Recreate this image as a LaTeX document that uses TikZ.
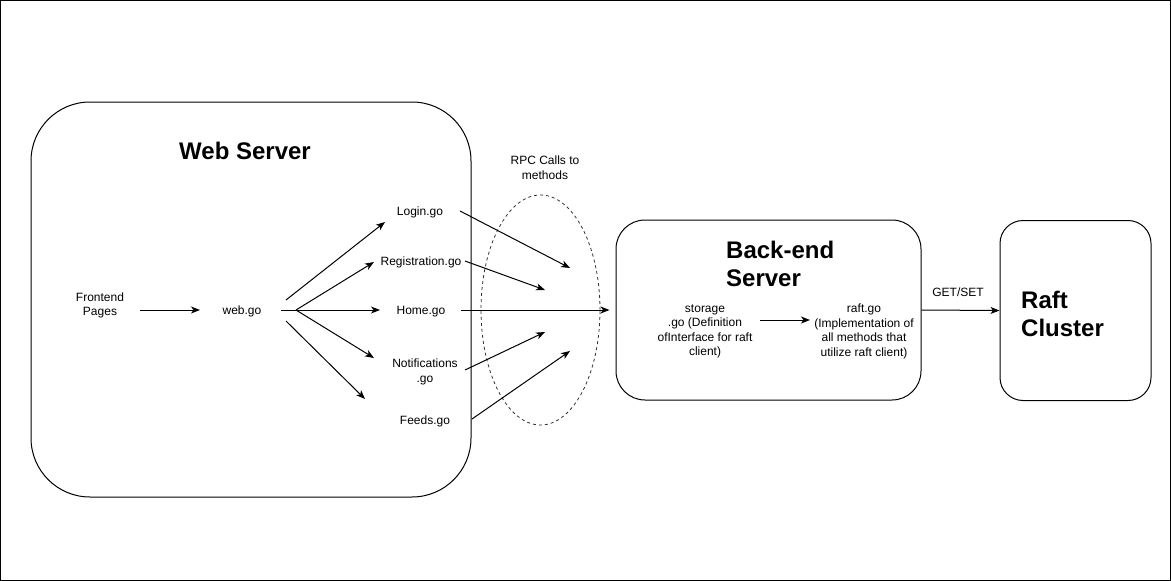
\documentclass[tikz,border=0pt]{standalone}
\usepackage{fontspec}
\setmainfont{Liberation Sans}
\usetikzlibrary{arrows.meta,shapes.geometric}
\tikzset{
  arr/.style={-{Stealth[length=9pt,width=7pt,inset=2.5pt]}, line width=1pt},
  boxbase/.style={draw, line width=1pt, inner sep=0pt},
  lbl/.style={font=\fontsize{12}{14.5}\selectfont, inner sep=0pt, align=center, yshift=-1.5pt},
  ttl/.style={font=\fontsize{24}{28}\selectfont\bfseries, inner sep=0pt},
  rpcring/.style={draw, ellipse, dash pattern=on 3pt off 3pt, line width=0.8pt, draw=black!80, inner sep=0pt},
}
\begin{document}
\begin{tikzpicture}[x=1pt,y=-1pt]
\useasboundingbox (0,0) rectangle (1171,581);
\draw[line width=1pt] (0.5,0.5) rectangle (1170.5,580.5);

% containers
\node[boxbase, rounded corners=59pt, minimum width=440pt, minimum height=395pt] (web) at (251,299.5) {};
\node[boxbase, rounded corners=29pt, minimum width=305pt, minimum height=180pt] (back) at (768.5,310) {};
\node[boxbase, rounded corners=23pt, minimum width=151pt, minimum height=180pt] (raft) at (1075.5,310.5) {};
\node[rpcring, minimum width=119pt, minimum height=230pt] (ring) at (540.5,310) {};

% titles
\node[ttl] (webtitle) at (245,151) {Web Server};
\node[ttl, align=left, anchor=west] (backtitle) at (726,264) {Back-end\\Server};
\node[ttl, align=left, anchor=west] (rafttitle) at (1021,314) {Raft\\Cluster};

% labels
\node[lbl] (fe) at (100,304) {Frontend\\Pages};
\node[lbl] (wgo) at (242,310) {web.go};
\node[lbl] (login) at (420,211) {Login.go};
\node[lbl] (reg) at (421,261) {Registration.go};
\node[lbl] (home) at (421,310) {Home.go};
\node[lbl] (notif) at (425,370.5) {Notifications\\.go};
\node[lbl] (feeds) at (425,420) {Feeds.go};
\node[lbl] (rpc) at (545,166) {RPC Calls to\\methods};
\node[lbl] (stor) at (705,330) {storage\\.go (Definition\\ofInterface for raft\\client)};
\node[lbl] (rgo) at (864,330) {raft.go\\(Implementation of\\all methods that\\utilize raft client)};
\node[lbl] (gs) at (958,291) {GET/SET};

% connector ends
\coordinate (feS) at (140,310);  \coordinate (feE) at (200,310);
\coordinate (f1s) at (286,300);  \coordinate (f1e) at (385,222);
\coordinate (f2s) at (296,310);  \coordinate (f2e) at (374,262);
\coordinate (f3s) at (281,310);  \coordinate (f3e) at (380,310);
\coordinate (f4s) at (296,310);  \coordinate (f4e) at (374,358);
\coordinate (f5s) at (286,321);  \coordinate (f5e) at (365,399);
\coordinate (r1s) at (460,211);  \coordinate (r1e) at (570,268);
\coordinate (r2s) at (465,261);  \coordinate (r2e) at (545,290);
\coordinate (r3s) at (461,310);
\coordinate (r4s) at (465,370);  \coordinate (r4e) at (545,332);
\coordinate (r5s) at (472,419);  \coordinate (r5e) at (570,351);
\coordinate (sS) at (760,320);   \coordinate (sE) at (810,320);

% connectors
\draw[arr] (feS) -- (feE);
\draw[arr] (f1s) -- (f1e);
\draw[arr] (f2s) -- (f2e);
\draw[arr] (f3s) -- (f3e);
\draw[arr] (f4s) -- (f4e);
\draw[arr] (f5s) -- (f5e);
\draw[arr] (r1s) -- (r1e);
\draw[arr] (r2s) -- (r2e);
\draw[arr] (r3s) -- ([xshift=-6pt]back.west);
\draw[arr] (r4s) -- (r4e);
\draw[arr] (r5s) -- (r5e);
\draw[arr] (sS) -- (sE);
\draw[arr] (back.east) -- (raft.west);
\end{tikzpicture}
\end{document}
